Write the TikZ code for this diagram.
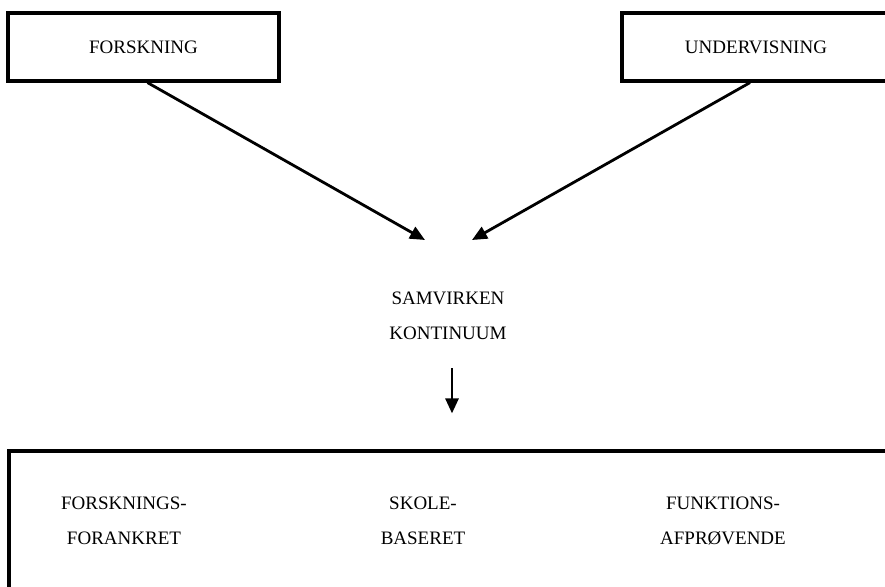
\documentclass[tikz,border=0pt]{standalone}
\usepackage{fontspec}
\setmainfont{Liberation Serif}
\usetikzlibrary{arrows.meta}

\begin{document}
\begin{tikzpicture}[x=1pt,y=-1pt,
  boks/.style={draw,line width=3.2pt,minimum height=68pt,inner sep=0pt},
  tekst/.style={align=center,font=\fontsize{19}{35}\selectfont},
  pil/.style={line width=2.8pt,-{Triangle[length=15pt,width=13pt]}}]
\path[use as bounding box,clip] (0,0) rectangle (885,586);
\node[boks,tekst,minimum width=271pt] (forsk) at (143.5,47) {FORSKNING};
\node[boks,tekst,minimum width=268pt] (underv) at (756,47) {UNDERVISNING};
\node[tekst] (samv) at (448,316) {SAMVIRKEN\\KONTINUUM};
\node[boks,minimum width=886pt,minimum height=160pt] (bund) at (452,531) {};
\node[tekst] (fors) at (124,521) {FORSKNINGS-\\FORANKRET};
\node[tekst] (skole) at (423,521) {SKOLE-\\BASERET};
\node[tekst] (funk) at (723,521) {FUNKTIONS-\\AFPRØVENDE};
\coordinate (mv) at (425,240);
\coordinate (mh) at (472,240);
\draw[pil] ([xshift=4pt]forsk.south) -- (mv);
\draw[pil] ([xshift=-6pt]underv.south) -- (mh);
\draw[pil,shorten <=25pt,shorten >=36pt] (samv.south -| bund.north) -- (bund.north);
\end{tikzpicture}
\end{document}
